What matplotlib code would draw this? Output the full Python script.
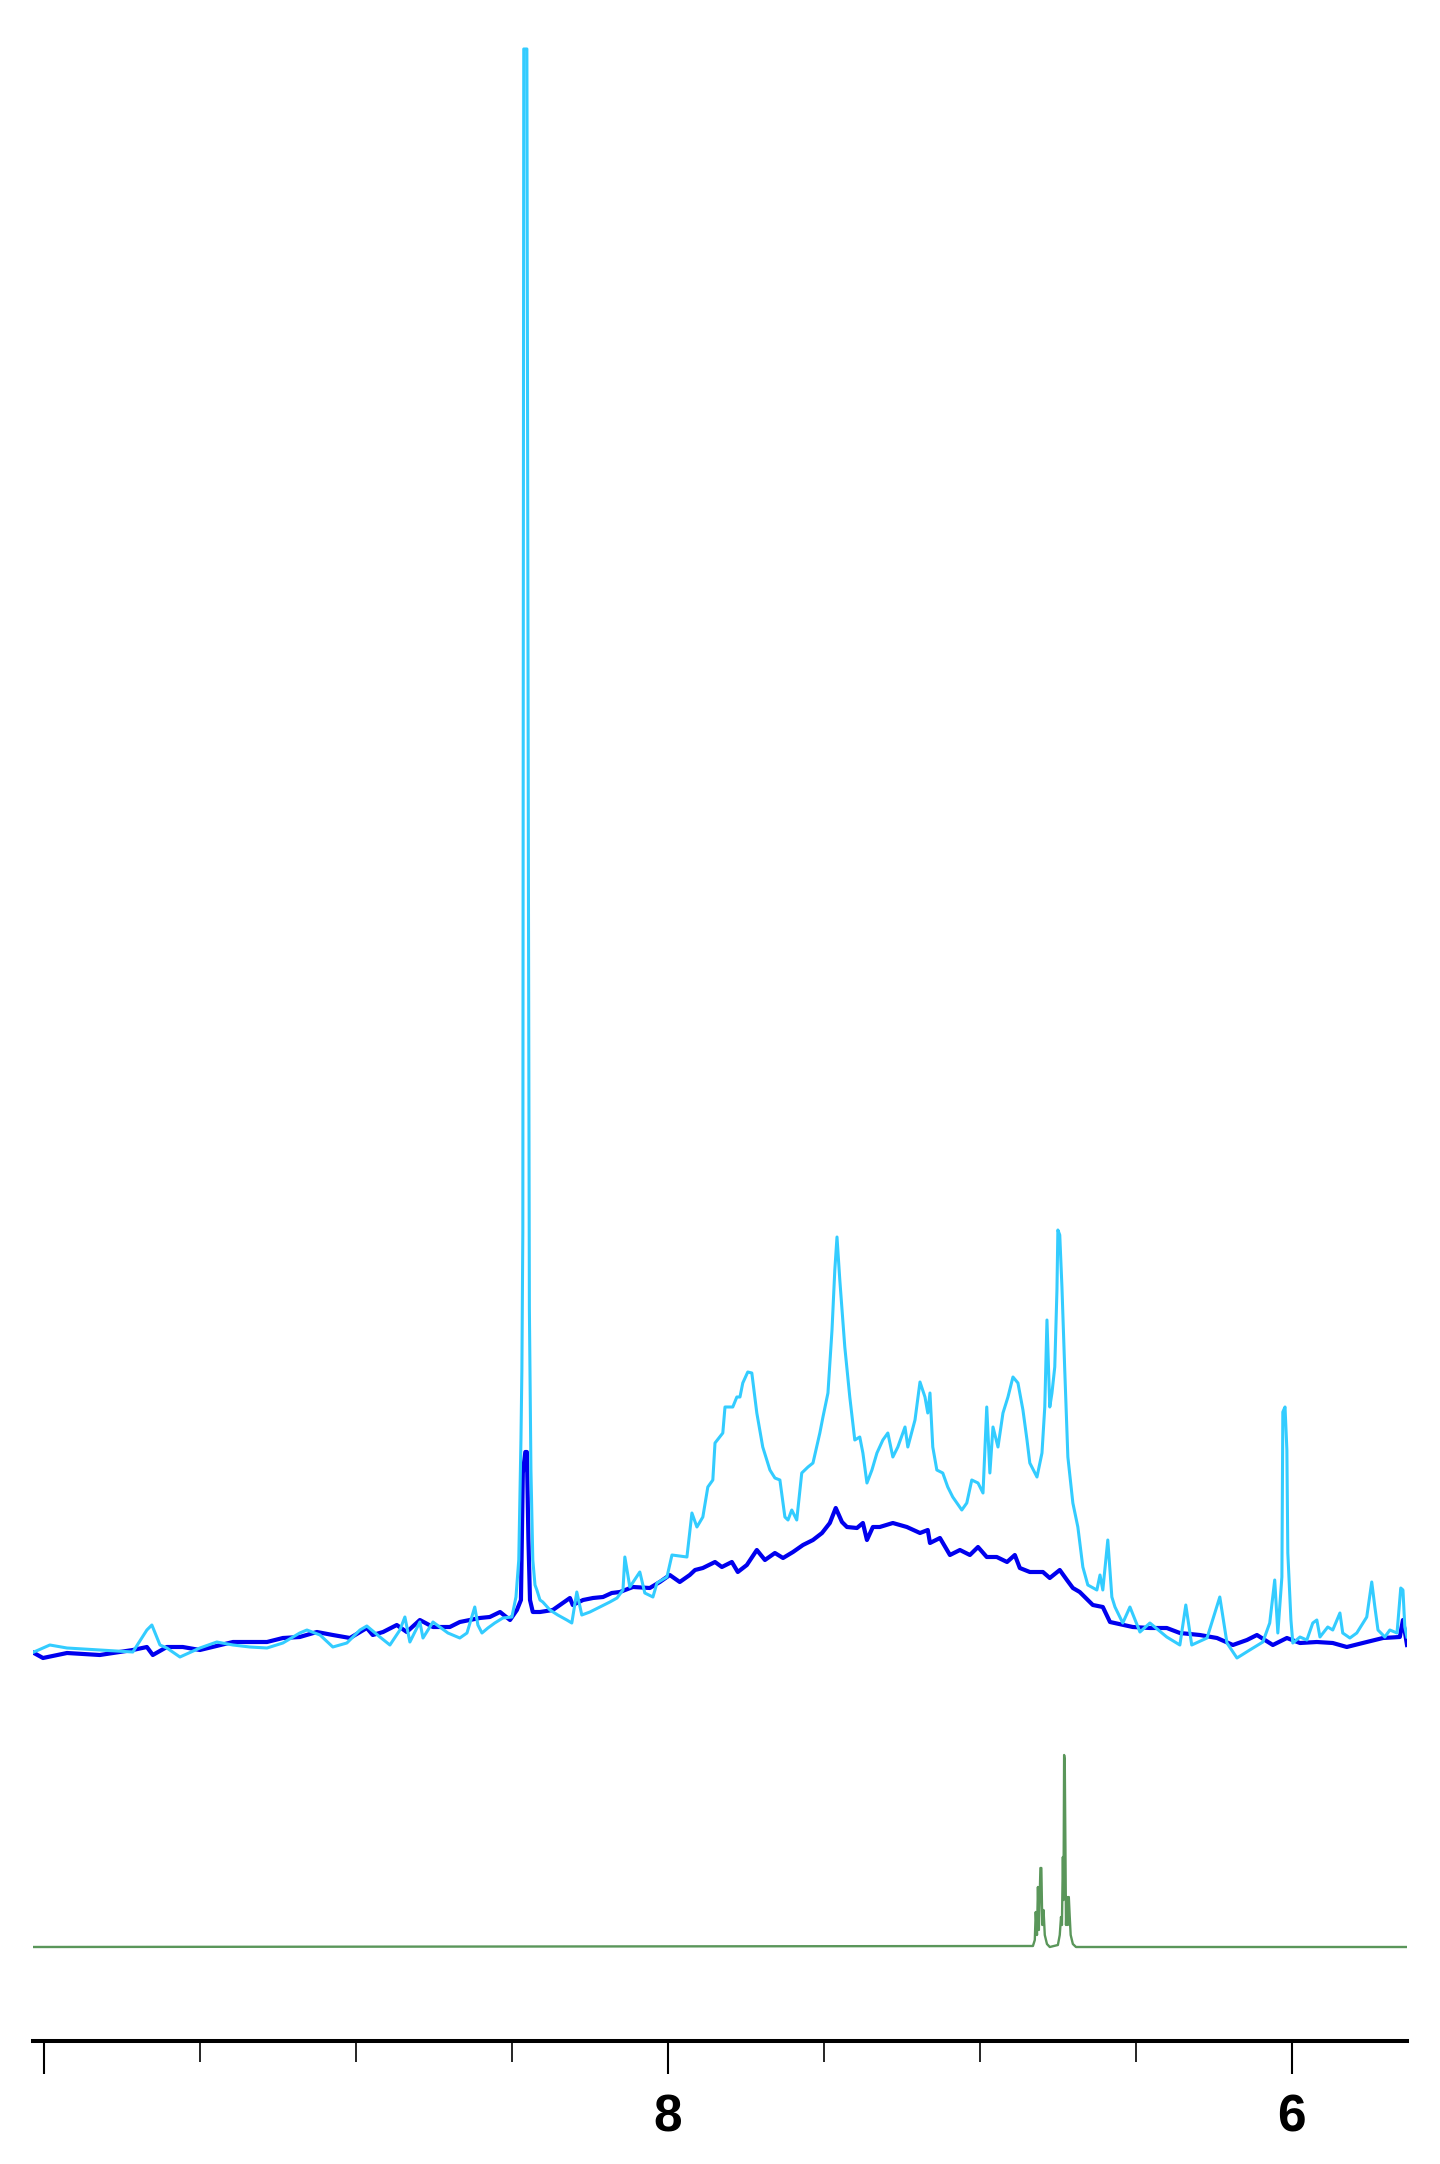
import matplotlib
matplotlib.use("Agg")
import matplotlib.pyplot as plt
from matplotlib.ticker import FixedLocator, FixedFormatter

# chemical shift (ppm) and intensity (a.u.)
ppm_light = [10.032, 9.981, 9.926, 9.821, 9.715, 9.670, 9.654, 9.628, 9.606, 9.564,
             9.500, 9.446, 9.394, 9.340, 9.285, 9.234, 9.180, 9.157, 9.115, 9.074,
             9.029, 8.987, 8.965, 8.923, 8.891, 8.859, 8.843, 8.827, 8.795, 8.785,
             8.753, 8.705, 8.667, 8.644, 8.619, 8.609, 8.596, 8.577, 8.555, 8.529,
             8.500, 8.487, 8.478, 8.471, 8.468, 8.465, 8.462, 8.452, 8.447, 8.444,
             8.439, 8.433, 8.426, 8.420, 8.410, 8.401, 8.378, 8.353, 8.324, 8.308,
             8.292, 8.276, 8.250, 8.218, 8.186, 8.163, 8.144, 8.138, 8.122, 8.090,
             8.074, 8.048, 8.035, 8.003, 7.987, 7.939, 7.923, 7.907, 7.888, 7.872,
             7.856, 7.849, 7.824, 7.817, 7.792, 7.779, 7.769, 7.760, 7.744, 7.731,
             7.715, 7.696, 7.673, 7.657, 7.641, 7.625, 7.615, 7.603, 7.587, 7.571,
             7.551, 7.535, 7.513, 7.503, 7.487, 7.474, 7.465, 7.458, 7.449, 7.433,
             7.417, 7.401, 7.385, 7.375, 7.362, 7.346, 7.330, 7.311, 7.295, 7.279,
             7.263, 7.240, 7.231, 7.208, 7.192, 7.176, 7.167, 7.160, 7.151, 7.138,
             7.119, 7.103, 7.087, 7.058, 7.042, 7.026, 7.006, 6.990, 6.978, 6.968,
             6.958, 6.942, 6.926, 6.910, 6.894, 6.878, 6.862, 6.849, 6.840, 6.817,
             6.801, 6.792, 6.785, 6.776, 6.769, 6.760, 6.753, 6.750, 6.744, 6.737,
             6.728, 6.718, 6.702, 6.686, 6.670, 6.654, 6.625, 6.615, 6.606, 6.590,
             6.577, 6.567, 6.542, 6.519, 6.487, 6.455, 6.401, 6.359, 6.340, 6.321,
             6.272, 6.231, 6.208, 6.176, 6.135, 6.093, 6.071, 6.055, 6.045, 6.032,
             6.029, 6.022, 6.016, 6.013, 6.003, 5.997, 5.974, 5.952, 5.933, 5.920,
             5.910, 5.885, 5.869, 5.846, 5.837, 5.814, 5.792, 5.760, 5.744, 5.734,
             5.724, 5.702, 5.686, 5.663, 5.651, 5.644, 5.638, 5.631]
int_light = [8, 15, 12, 10, 8, 30, 35, 15, 12, 3,
             12, 18, 15, 13, 12, 17, 27, 30, 25, 13,
             17, 30, 34, 23, 15, 30, 43, 18, 38, 22,
             38, 27, 22, 27, 53, 35, 27, 32, 37, 42,
             43, 63, 100, 220, 290, 428, 1611, 1611, 772, 352,
             190, 100, 75, 70, 60, 58, 50, 45, 40, 37,
             68, 45, 48, 53, 58, 62, 70, 103, 73, 88,
             67, 63, 77, 83, 105, 103, 147, 133, 143, 173,
             180, 217, 227, 253, 253, 263, 263, 277, 288, 287,
             247, 213, 190, 182, 180, 143, 140, 150, 140, 187,
             193, 197, 227, 243, 267, 330, 390, 423, 380, 313,
             263, 220, 223, 207, 177, 190, 207, 220, 227, 203,
             213, 233, 213, 240, 278, 263, 247, 267, 213, 190,
             187, 173, 163, 150, 157, 180, 177, 167, 253, 187,
             233, 213, 247, 263, 283, 277, 250, 220, 197, 183,
             207, 253, 340, 253, 267, 293, 370, 430, 425, 373,
             290, 203, 157, 133, 93, 75, 70, 85, 70, 120,
             63, 53, 37, 53, 28, 37, 23, 15, 55, 15,
             22, 63, 17, 2, 10, 18, 37, 80, 27, 83,
             248, 253, 210, 107, 40, 17, 23, 20, 37, 40,
             23, 33, 30, 47, 27, 22, 27, 43, 78, 53,
             30, 23, 30, 27, 72, 70, 33, 23]

ppm_dark = [10.032, 10.003, 9.926, 9.821, 9.715, 9.670, 9.651, 9.606, 9.555, 9.500,
            9.394, 9.285, 9.234, 9.180, 9.125, 9.074, 9.019, 8.965, 8.946, 8.913,
            8.869, 8.837, 8.795, 8.753, 8.699, 8.667, 8.635, 8.603, 8.571, 8.538,
            8.506, 8.484, 8.471, 8.465, 8.457, 8.452, 8.447, 8.442, 8.433, 8.410,
            8.369, 8.346, 8.314, 8.305, 8.272, 8.240, 8.208, 8.180, 8.154, 8.112,
            8.058, 8.026, 7.994, 7.962, 7.930, 7.913, 7.888, 7.849, 7.827, 7.795,
            7.776, 7.747, 7.715, 7.689, 7.657, 7.631, 7.599, 7.567, 7.535, 7.506,
            7.481, 7.462, 7.442, 7.426, 7.394, 7.375, 7.362, 7.343, 7.321, 7.279,
            7.234, 7.192, 7.167, 7.160, 7.128, 7.096, 7.064, 7.032, 7.006, 6.978,
            6.946, 6.913, 6.888, 6.872, 6.840, 6.798, 6.776, 6.744, 6.721, 6.702,
            6.680, 6.638, 6.606, 6.583, 6.510, 6.455, 6.401, 6.359, 6.295, 6.240,
            6.189, 6.144, 6.112, 6.061, 6.016, 5.974, 5.920, 5.869, 5.824, 5.760,
            5.708, 5.654, 5.644, 5.631]
int_dark = [7, 2, 7, 5, 10, 13, 5, 13, 13, 10,
            18, 18, 22, 23, 28, 25, 22, 32, 25, 28,
            35, 28, 40, 33, 33, 38, 40, 42, 43, 48,
            40, 50, 60, 187, 208, 208, 120, 60, 48, 48,
            50, 55, 62, 55, 60, 62, 63, 67, 68, 73,
            72, 78, 85, 78, 85, 90, 92, 98, 93, 98,
            88, 95, 110, 100, 107, 102, 108, 115, 120, 127,
            137, 152, 138, 133, 132, 137, 120, 133, 133, 137,
            133, 127, 130, 117, 122, 105, 110, 105, 113, 103,
            103, 98, 105, 92, 88, 88, 82, 90, 80, 72,
            68, 55, 53, 38, 33, 32, 32, 27, 25, 22,
            15, 20, 25, 15, 22, 17, 18, 17, 13, 18,
            22, 23, 40, 15]

ppm_green = [10.032, 6.830, 6.824, 6.821, 6.817, 6.814, 6.811, 6.806, 6.803, 6.800,
             6.796, 6.792, 6.785, 6.776, 6.750, 6.744, 6.740, 6.737, 6.734, 6.732,
             6.730, 6.728, 6.724, 6.721, 6.718, 6.715, 6.712, 6.709, 6.702, 6.692,
             5.631]
int_green = [0, 1, 7, 35, 12, 60, 17, 79, 79, 22,
             37, 12, 3, 0, 2, 12, 30, 22, 90, 47,
             192, 187, 22, 50, 22, 50, 30, 12, 3, 0,
             0]

green_offset = -287

fig = plt.figure(figsize=(14.4, 21.64), dpi=100)
ax = fig.add_axes([33 / 1440, 1 - 2041 / 2164, 1374 / 1440, 2041 / 2164])

ax.plot(ppm_dark, int_dark, color='#0000ee', lw=3.0, zorder=2)
ax.plot(ppm_light, int_light, color='#33ccff', lw=2.2, zorder=3)
ax.plot(ppm_green, [v + green_offset for v in int_green], color='#5a965a', lw=1.7, zorder=2)

ax.set_xlim(10.035, 5.631)
ax.set_ylim(-381, 1660)

for s in ['left', 'right', 'top']:
    ax.spines[s].set_visible(False)
ax.spines['bottom'].set_linewidth(2.9)
ax.set_yticks([])

ax.xaxis.set_major_locator(FixedLocator([10, 8, 6]))
ax.xaxis.set_major_formatter(FixedFormatter(['', '8', '6']))
ax.xaxis.set_minor_locator(FixedLocator([9.5, 9, 8.5, 7.5, 7, 6.5]))
ax.tick_params(axis='x', which='major', length=24, width=1.5, pad=14,
               labelsize=37, direction='out')
ax.tick_params(axis='x', which='minor', length=15, width=1.2, direction='out')
for lab in ax.get_xticklabels():
    lab.set_fontfamily(['Liberation Sans', 'DejaVu Sans'])
    lab.set_fontweight('bold')

fig.savefig('out.png', dpi=100)
